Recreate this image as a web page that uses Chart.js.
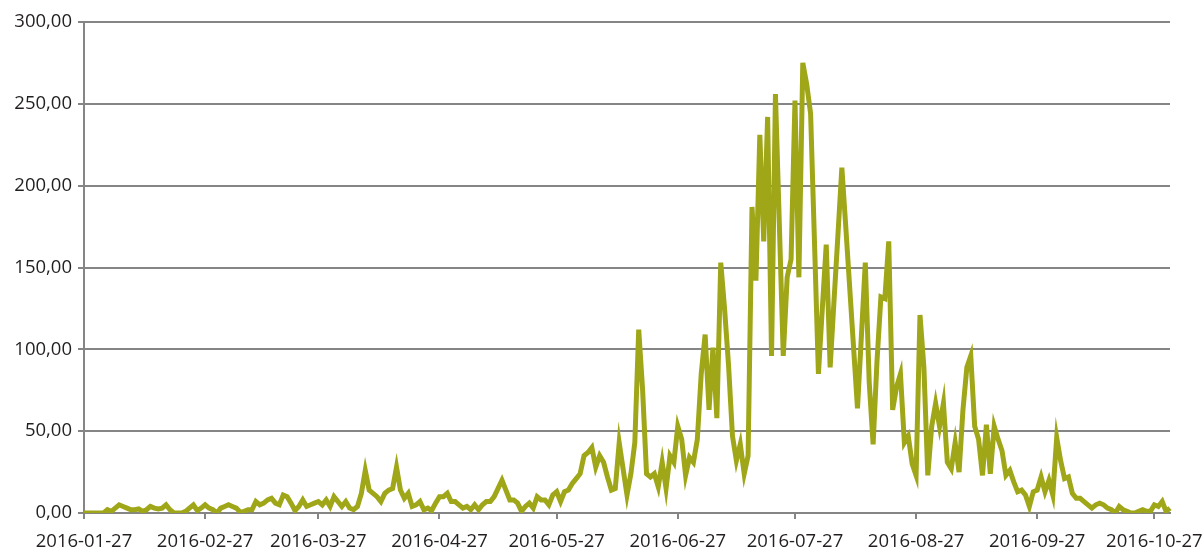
<!DOCTYPE html>
<html>
<head>
<meta charset="utf-8">
<script src="https://cdn.jsdelivr.net/npm/chart.js@4/dist/chart.umd.min.js"></script>
<style>
  html, body { margin: 0; padding: 0; background: #ffffff; }
  #wrap { width: 1204px; height: 549px; position: relative; }
</style>
</head>
<body>
<div id="wrap"><canvas id="c" width="1204" height="549"></canvas></div>
<script>
// ---- data ----
const startDate = '2016-01-27';
const dayCount = 279; // 2016-01-27 .. 2016-10-31
const tickLabels = ['2016-01-27','2016-02-27','2016-03-27','2016-04-27','2016-05-27','2016-06-27','2016-07-27','2016-08-27','2016-09-27','2016-10-27'];
const yTicks = [0, 50, 100, 150, 200, 250, 300];

// values Jan 27 - Mar 26
const valuesJanMar = [
  0,0,0,0,0,0,2,1,3,5, 4,3,2,2,2.5,1,2,4,3,2.5,
  3,5,2,0,0,0,1,3,5,1.5, 3,5,3,2,0,3,4,5,4,3,
  0.5,1,2,2,7,5,6,8,9,6, 5,11,10,6,1.5,4,8,4,5,6
];
// values Mar 27 - May 26
const valuesMarMay = [
  7,5,8,4,10,7,4,7,3,2, 4,12,26,14,12,10,7,12,14,15,
  28,14,9,12,4,5,7,2,3,1.5, 6,10,10,12,7,7,5,3,4,2,
  5,2,5,7,7,10,15,20,14,8, 8,6,1,4,6,3,10,8,8,5
];
// values May 27 - Jul 26
const valuesMayJul = [
  11,13,7,13,14,18,21,24,35,37, 40,28,35,31,22,14,15,43,27,11,
  24,43,112,75,24,22,24,16,31,15, 35,31,53,45,23,34,31,45,85,109,
  63,101,58,153,124,90,47,32,42,24, 35,187,142,231,166,242,96,256,176,96,
  144,155
];
// values Jul 27 - Sep 26
const valuesJulSep = [
  252,144,275,262,244,165,85,125,164,89, 130,170,211,175,138,101,64,108,153,80,
  42,93,132,131,166,63,77,85,43,47, 30,23,121,89,23,53,67,53,67,31,
  27,43,25,63,89,96,53,45,23,54, 24,53,45,38,23,26,19,13,14,11,
  4,13
];
// values Sep 27 - Oct 31
const valuesSepOct = [
  14,22,13,20,11,46,32,21,22,12, 9,9,7,5,3,5,6,5,3,2,
  0,4,2,1,0,0,1,2,1,1, 5,4,7,1,3
];

const values = [].concat(valuesJanMar, valuesMarMay, valuesMayJul, valuesJulSep, valuesSepOct);

const categories = [];
{
  const p = startDate.split('-').map(Number);
  for (let i = 0; i < dayCount; i++) {
    categories.push(new Date(Date.UTC(p[0], p[1] - 1, p[2] + i)).toISOString().slice(0, 10));
  }
}

// ---- chart ----
const gridColor = '#858585';
const textColor = '#231f20';
const fontFamily = '"Open Sans", "DejaVu Sans", sans-serif';

new Chart(document.getElementById('c'), {
  type: 'line',
  data: {
    labels: categories,
    datasets: [{
      data: values,
      borderColor: '#9fa617',
      backgroundColor: '#9fa617',
      borderWidth: 5,
      pointRadius: 0,
      pointHoverRadius: 0,
      tension: 0,
      fill: false
    }]
  },
  options: {
    responsive: false,
    animation: false,
    devicePixelRatio: 1,
    layout: { padding: { left: 0, right: 34, top: 22, bottom: 0 } },
    plugins: { legend: { display: false }, tooltip: { enabled: false }, title: { display: false } },
    scales: {
      x: {
        type: 'category',
        offset: false,
        afterBuildTicks: (scale) => {
          scale.ticks = scale.ticks.filter(t => tickLabels.includes(categories[t.value]));
        },
        afterFit: (scale) => {
          scale.height = 36;
          scale.paddingLeft = 0;
          scale.paddingRight = 0;
        },
        ticks: {
          autoSkip: false,
          maxRotation: 0,
          minRotation: 0,
          padding: 12,
          color: textColor,
          font: { family: fontFamily, size: 18.5 },
          callback: function (value) { return this.getLabelForValue(value); }
        },
        grid: {
          drawOnChartArea: false,
          drawTicks: true,
          tickLength: 6,
          color: gridColor,
          lineWidth: 2
        },
        border: { display: true, color: gridColor, width: 2 }
      },
      y: {
        min: 0,
        max: 300,
        afterBuildTicks: (scale) => {
          scale.ticks = yTicks.map(v => ({ value: v }));
        },
        afterFit: (scale) => { scale.width = 84; },
        ticks: {
          padding: 6,
          color: textColor,
          font: { family: fontFamily, size: 18.5 },
          callback: (v) => Number(v).toFixed(2).replace('.', ',')
        },
        grid: {
          color: gridColor,
          lineWidth: 2,
          drawTicks: true,
          tickLength: 6
        },
        border: { display: true, color: gridColor, width: 2 }
      }
    }
  }
});
</script>
</body>
</html>
